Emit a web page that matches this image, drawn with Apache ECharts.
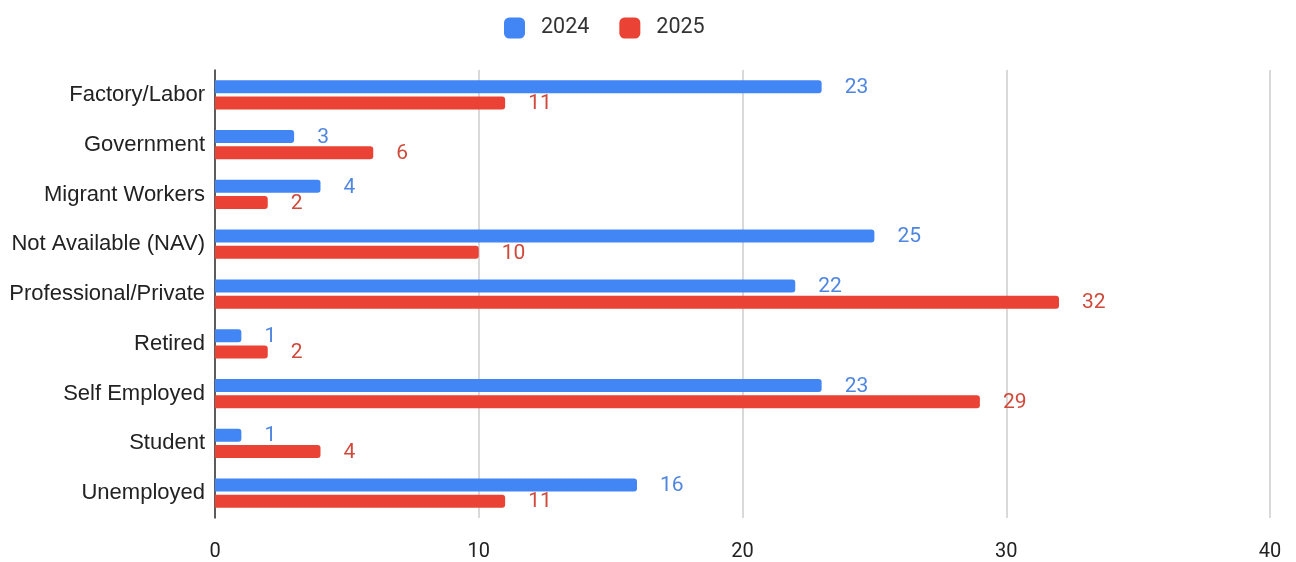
<!DOCTYPE html>
<html>
<head>
<meta charset="utf-8">
<script src="https://cdn.jsdelivr.net/npm/echarts@6/dist/echarts.min.js"></script>
<style>html,body{margin:0;padding:0;background:#fff;}#c{width:1296px;height:562px;}</style>
</head>
<body>
<div id="c"></div>
<script>
const categories = ["Factory/Labor","Government","Migrant Workers","Not Available (NAV)","Professional/Private","Retired","Self Employed","Student","Unemployed"];
const values2024 = [23,3,4,25,22,1,23,1,16];
const values2025 = [11,6,2,10,32,2,29,4,11];
const xTicks = [0,10,20,30,40];

const chart = echarts.init(document.getElementById('c'));
const labelFont = 'Roboto, "Liberation Sans", Arial, sans-serif';
chart.setOption({
  animation: false,
  legend: {
    top: 12, left: 499,
    itemWidth: 21, itemHeight: 21, itemGap: 30,
    icon: 'roundRect',
    textStyle: {fontSize: 21.5, color: '#333', fontFamily: labelFont, padding: [0,0,0,11]},
    data: ['2024','2025']
  },
  grid: {left: 215, right: 26, top: 70, bottom: 44, containLabel: false},
  xAxis: {
    type: 'value', min: xTicks[0], max: xTicks[xTicks.length-1], interval: 10,
    axisLine: {show: false}, axisTick: {show: false},
    splitLine: {lineStyle: {color: '#cccccc', width: 1.5}},
    axisLabel: {fontSize: 20, color: '#222', margin: 24, fontFamily: labelFont}
  },
  yAxis: {
    type: 'category', data: categories, inverse: true,
    axisLine: {show: true, lineStyle: {color: '#333', width: 1.5}},
    axisTick: {show: false},
    axisLabel: {fontSize: 22, color: '#222', margin: 10, fontFamily: '"Liberation Sans", Arial, sans-serif'}
  },
  series: [
    {
      name: '2024', type: 'bar', data: values2024,
      barWidth: 13, barGap: '25%',
      itemStyle: {color: '#4285F4', borderRadius: [0,3,3,0]},
      label: {show: true, position: 'right', distance: 23, fontSize: 21, color: '#4f86e0', fontFamily: labelFont, offset: [0, 1]}
    },
    {
      name: '2025', type: 'bar', data: values2025,
      barWidth: 13,
      itemStyle: {color: '#EA4335', borderRadius: [0,3,3,0]},
      label: {show: true, position: 'right', distance: 23, fontSize: 21, color: '#d04a3c', fontFamily: labelFont, offset: [0, 1]}
    }
  ]
});
</script>
</body>
</html>
